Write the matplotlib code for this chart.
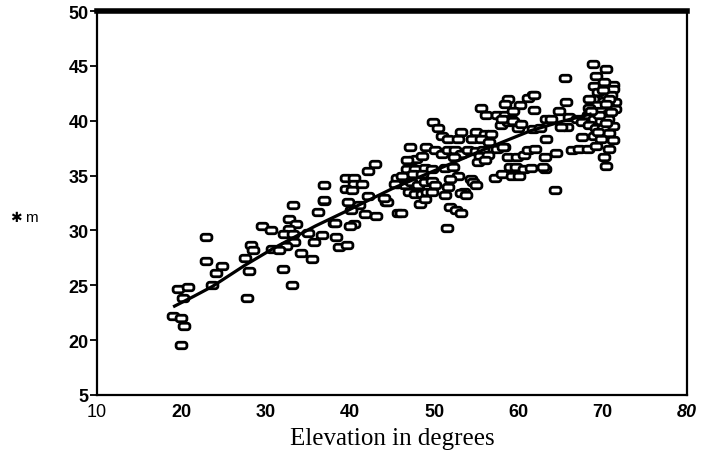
import numpy as np
import matplotlib
matplotlib.use("Agg")
import matplotlib.pyplot as plt
from matplotlib.path import Path

# Observations: elevation angle (degrees) and measured value (m)
elev = [
    33.3, 36.9, 39.8, 41.1, 44.3, 36.2, 40.1, 41.8, 43.1, 32.8, 33.6, 29.6, 30.6, 32.8, 32.2, 33.2,
    35.0, 36.7, 38.1, 38.4, 40.5, 40.0, 35.7, 38.7, 39.7, 33.4, 32.4, 30.8, 31.6, 34.2, 35.5, 28.3,
    28.5, 32.1, 33.1, 45.7,
    22.9, 22.9, 24.8, 27.5, 24.1, 28.0, 23.7, 19.6, 20.8, 20.2, 27.8, 19.0, 20.0, 20.3, 20.0,
    36.9, 36.9, 39.5, 40.5, 40.5, 41.4, 39.5, 40.3, 42.2, 44.4, 43.0, 42.2, 45.6, 46.2, 45.8, 46.6,
    46.1, 38.2, 44.0, 45.4,
    47.1, 49.0, 47.4, 47.9, 48.6, 50.1, 50.9, 51.7, 52.5, 53.2, 52.3, 54.0, 55.0, 55.8, 55.4, 56.4,
    55.2, 56.0, 57.4, 58.3, 46.8, 46.8, 47.7, 48.9, 49.7, 51.3, 52.2, 47.5, 48.5, 52.8, 51.9, 47.3,
    48.1, 48.9, 49.7, 47.0, 47.7, 48.5, 49.1, 48.3, 48.9, 49.7, 50.1, 51.3, 51.7, 53.6, 54.4, 54.6,
    55.0, 53.2, 53.8, 51.9, 52.6, 53.2, 51.5,
    49.9, 50.4, 53.2, 55.0, 56.0, 56.8, 50.9, 51.7, 52.8, 54.5, 55.6, 56.5, 55.5, 56.2, 57.4, 58.4,
    61.7, 61.1, 58.8, 60.2, 61.8, 59.3, 59.1, 57.9, 58.8, 59.9, 59.9, 63.3, 61.7, 62.5, 63.3, 59.0,
    59.7, 60.7, 61.5, 63.1, 57.2, 58.1, 59.2, 60.1, 58.8, 59.8, 60.7, 61.1, 62.0, 63.2, 64.5, 66.4,
    67.2, 68.2, 62.9, 64.3, 61.9, 58.4, 58.0, 59.3, 60.3, 58.2, 65.5, 65.6, 64.8, 63.9, 66.0, 67.0,
    65.8, 65.0,
    68.8, 70.4, 69.2, 69.0, 70.2, 71.2, 71.2, 70.2, 69.4, 71.0, 68.8, 70.2, 71.4, 69.2, 70.6, 71.4,
    68.4, 68.4, 69.0, 69.8, 70.6, 68.2, 69.0, 69.8, 70.6, 71.2, 67.6, 68.4, 69.2, 70.0, 70.8, 67.6,
    69.0, 69.8, 71.2, 69.2, 70.8, 70.2, 70.4, 70.0, 70.8, 69.6, 70.4, 71.0, 69.4, 68.6, 70.4,
]
mval = [
    32.3, 32.7, 32.6, 32.3, 32.6, 31.7, 31.9, 31.5, 31.3, 31.0, 30.6, 30.4, 30.0, 30.1, 29.7, 29.7,
    29.8, 29.6, 30.7, 29.4, 30.6, 30.4, 28.9, 28.5, 28.7, 28.9, 28.6, 28.3, 28.2, 27.9, 27.4, 28.7,
    28.2, 26.5, 25.0, 31.6,
    29.4, 27.2, 26.8, 27.5, 26.1, 26.3, 25.0, 24.7, 24.8, 23.8, 23.8, 22.2, 22.0, 21.3, 19.6,
    34.1, 32.8, 34.8, 34.8, 34.2, 34.2, 33.8, 33.7, 33.1, 32.6, 36.1, 35.4, 34.8, 35.0, 34.2, 34.1,
    31.6, 30.7, 33.0, 34.2,
    37.6, 37.6, 36.4, 36.5, 36.8, 37.3, 37.0, 37.3, 37.3, 37.0, 36.7, 37.3, 37.2, 37.3, 36.8, 36.9,
    36.2, 36.4, 37.4, 37.6, 36.4, 35.6, 35.6, 35.7, 35.6, 35.7, 35.8, 35.1, 35.1, 35.0, 34.7, 34.4,
    34.1, 34.4, 34.5, 33.5, 33.3, 33.3, 33.5, 32.4, 32.9, 33.5, 34.1, 33.2, 34.0, 33.5, 34.7, 34.4,
    34.1, 33.4, 33.2, 32.1, 31.9, 31.6, 30.2,
    39.9, 39.3, 39.0, 39.0, 38.8, 38.8, 38.6, 38.3, 38.3, 38.3, 38.3, 38.1, 41.2, 40.5, 40.5, 40.5,
    42.3, 42.1, 42.0, 41.4, 41.0, 40.9, 40.2, 39.6, 39.9, 39.7, 39.3, 40.2, 39.2, 39.3, 38.3, 35.8,
    35.8, 35.6, 35.7, 35.6, 34.8, 35.1, 35.0, 35.0, 36.7, 36.7, 36.9, 37.3, 37.4, 36.7, 37.1, 37.3,
    37.4, 37.4, 35.8, 33.7, 42.3, 41.5, 40.2, 40.0, 39.7, 37.6, 43.9, 41.7, 40.9, 40.2, 40.3, 40.2,
    39.4, 39.4,
    45.2, 44.7, 44.1, 43.2, 43.2, 43.3, 42.9, 43.5, 42.6, 42.3, 42.0, 41.8, 41.7, 41.4, 41.3, 41.1,
    42.0, 41.2, 40.9, 40.9, 40.6, 40.5, 40.2, 40.0, 40.2, 39.5, 39.9, 39.6, 39.3, 39.3, 38.9, 38.5,
    38.6, 38.3, 38.2, 37.7, 37.4, 36.7, 35.9, 42.8, 42.0, 40.5, 39.8, 40.8, 39.0, 40.9, 41.5,
]

# Smoothed trend through the observations
fit_x = [19.2, 21.5, 23.7, 27.5, 31.0, 35.9, 39.7, 45.0, 50.5, 56.0, 61.5, 65.0, 68.5]
fit_y = [23.1, 24.0, 24.9, 26.8, 28.4, 30.4, 31.8, 33.8, 35.6, 37.4, 39.1, 39.9, 40.6]

ytick_vals = [15, 20, 25, 30, 35, 40, 45, 50]
ytick_labels = ["5", "20", "25", "30", "35", "40", "45", "50"]
xtick_vals = [10, 20, 30, 40, 50, 60, 70, 80]
xtick_labels = ["10", "20", "30", "40", "50", "60", "70", "80"]


def rounded_box(w=1.0, h=0.6, r=0.24, n=8):
    """Closed path of a rounded rectangle centred on the origin."""
    pts = []
    corners = [(w / 2 - r, h / 2 - r, 0), (-w / 2 + r, h / 2 - r, 90),
               (-w / 2 + r, -h / 2 + r, 180), (w / 2 - r, -h / 2 + r, 270)]
    for cx, cy, a0 in corners:
        for t in np.linspace(np.radians(a0), np.radians(a0 + 90), n):
            pts.append((cx + r * np.cos(t), cy + r * np.sin(t)))
    pts.append(pts[0])
    codes = [Path.MOVETO] + [Path.LINETO] * (len(pts) - 2) + [Path.CLOSEPOLY]
    return Path(pts, codes)


W, H, DPI = 702, 456, 100
fig = plt.figure(figsize=(W / DPI, H / DPI), dpi=DPI)
x0, x1, y0, y1 = 97, 687, 12, 396
ax = fig.add_axes([x0 / W, 1 - y1 / H, (x1 - x0) / W, (y1 - y0) / H])

ax.plot(elev, mval, linestyle="none", marker=rounded_box(), markersize=7.8,
        markerfacecolor="white", markeredgecolor="black", markeredgewidth=2.0,
        zorder=3)
ax.plot(fit_x, fit_y, color="black", linewidth=2.3, zorder=4)

ax.set_xlim(10, 80)
ax.set_ylim(15, 50)

for side in ("left", "bottom", "right"):
    ax.spines[side].set_linewidth(1.6)
ax.spines["top"].set_linewidth(4.0)

ax.set_yticks(ytick_vals)
ax.set_yticklabels(ytick_labels)
ax.set_xticks(xtick_vals)
ax.set_xticklabels(xtick_labels)

ax.tick_params(axis="y", which="major", direction="out", length=5, width=1.3,
               pad=1, labelsize=13)
ax.tick_params(axis="x", which="major", length=0, pad=6, labelsize=13)
for lab in ax.get_yticklabels() + ax.get_xticklabels():
    lab.set_fontfamily("Liberation Sans")
    lab.set_fontweight("bold")
ax.get_xticklabels()[0].set_fontweight("normal")
ax.get_xticklabels()[-1].set_fontstyle("italic")

# small crosses at the axis corners
ax.set_xticks([10.0001], minor=True)
ax.set_yticks([15.0001, 49.9999], minor=True)
ax.tick_params(axis="x", which="minor", direction="inout", length=10, width=1.3)
ax.tick_params(axis="y", which="minor", direction="inout", length=10, width=1.3)

ax.set_xlabel("Elevation in degrees", fontfamily="Liberation Serif", fontsize=18,
              labelpad=5)

fig.text(10 / W, 1 - 222 / H, "\u2731", fontfamily="DejaVu Sans", fontsize=10,
         fontweight="bold", va="baseline", ha="left")
fig.text(25 / W, 1 - 222 / H, "m", fontfamily="Liberation Sans", fontsize=11,
         va="baseline", ha="left")

fig.savefig("out.png", dpi=DPI)
